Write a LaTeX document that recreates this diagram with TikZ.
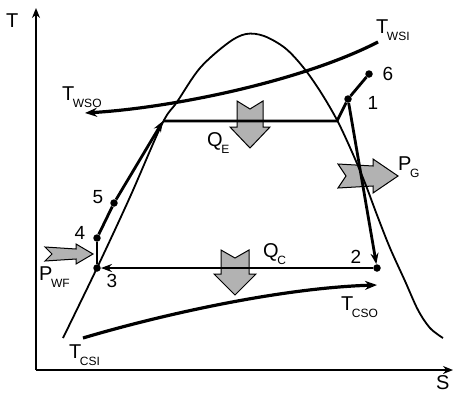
\documentclass[tikz,border=0pt]{standalone}
\usepackage{fontspec}
\setmainfont{Liberation Sans}
\usetikzlibrary{arrows.meta}
\newcommand{\tsub}[2]{#1\kern-1.5pt\raisebox{-7pt}{\fontsize{12}{12}\selectfont #2}}
\tikzset{
  lbl/.style={inner sep=0pt, font=\fontsize{20}{20}\selectfont},
  num/.style={inner sep=0pt, font=\fontsize{19}{19}\selectfont},
  dot/.style={circle, fill=black, inner sep=0pt, minimum size=7.5pt},
  axis/.style={line width=2.2pt, -{Stealth[length=10pt,width=8pt]}},
  dome/.style={line width=1.8pt},
  cyc/.style={line width=2.8pt},
  cycarrow/.style={line width=2.8pt, -{Stealth[length=11pt,width=8pt]}},
  stream/.style={line width=3.2pt, -{Stealth[length=12pt,width=9pt]}},
  block/.style={fill=gray!60, draw=black, line width=1pt},
}
\begin{document}
\begin{tikzpicture}[x=1pt,y=-1pt]
\useasboundingbox (0,0) rectangle (454,394);
% block arrows (drawn first, lines over them)
\draw[block] (237,101) -- (250,109) -- (263,101) -- (263,127) -- (270,127) -- (250,148) -- (230,127) -- (237,127) -- cycle;
\draw[block] (221,250) -- (235,258) -- (249,250) -- (249,274) -- (256,274) -- (235,295) -- (214,274) -- (221,274) -- cycle;
\draw[block] (338,164) -- (346,176) -- (338,188) -- (373,186) -- (373,193) -- (398,176) -- (373,159) -- (373,166) -- cycle;
\draw[block] (45,247) -- (52,254) -- (45,261) -- (76,259) -- (76,264) -- (93,254) -- (76,244) -- (76,249) -- cycle;
% axes
\coordinate (o) at (36,370);
\coordinate (ty) at (36,8);
\coordinate (sx) at (453,370);
\draw[axis] (o) -- (ty);
\draw[axis] (o) -- (sx);
\node[lbl, anchor=base west] (T) at (6,27) {T};
\node[lbl, anchor=base west] (S) at (436,389) {S};
% saturation dome
\draw[dome] plot[smooth, tension=0.55] coordinates {(63,338) (97,268) (130,197) (162,124) (177,102) (200,68) (228,43) (246,34) (264,36) (285,48) (303,67) (320,91) (337,120) (352,152) (365,183) (377,215) (390,248) (405,281) (418,310) (430,328) (443,338)};
% streams
\coordinate (wsi) at (378,42);
\coordinate (wso) at (85,113);
\coordinate (csi) at (83,338);
\coordinate (cso) at (377,285);
\draw[stream] (wsi) .. controls (300,82) and (170,108) .. (wso);
\draw[stream] (csi) .. controls (160,315) and (280,288) .. (cso);
% cycle points
\node[dot] (p1) at (348,99) {};
\node[dot] (p2) at (377,268) {};
\node[dot] (p3) at (97,268) {};
\node[dot] (p4) at (97,238) {};
\node[dot] (p5) at (114,203) {};
\node[dot] (p6) at (369,74) {};
\coordinate (sv) at (163,121);
\coordinate (sg) at (337,121);
% cycle lines
\draw[cyc] (p3) -- (p4);
\draw[cyc] (p4) -- (p5);
\draw[cycarrow] (p5) -- (sv);
\draw[cyc] (sv) -- (sg) -- (p1) -- (p6);
\draw[cycarrow] (p1) -- (p2);
\draw[cycarrow] (p2) -- (p3);
% numbers
\node[num] (n1) at (373,103) {1};
\node[num] (n2) at (356,257) {2};
\node[num] (n3) at (112,281) {3};
\node[num] (n4) at (80,233) {4};
\node[num] (n5) at (98,197) {5};
\node[num] (n6) at (388,74) {6};
% stream labels
\node[lbl, anchor=base west] (twsi) at (376,33) {\tsub{T}{WSI}};
\node[lbl, anchor=base west] (twso) at (62,100) {\tsub{T}{WSO}};
\node[lbl, anchor=base west] (tcsi) at (69,358) {\tsub{T}{CSI}};
\node[lbl, anchor=base west] (tcso) at (341,310) {\tsub{T}{CSO}};
\node[lbl, anchor=base west] (qe) at (207,146) {\tsub{Q}{E}};
\node[lbl, anchor=base west] (qc) at (263,257) {\tsub{Q}{C}};
\node[lbl, anchor=base west] (pg) at (398,170) {\tsub{P}{G}};
\node[lbl, anchor=base west] (pwf) at (39,280) {\tsub{P}{WF}};
\end{tikzpicture}
\end{document}
